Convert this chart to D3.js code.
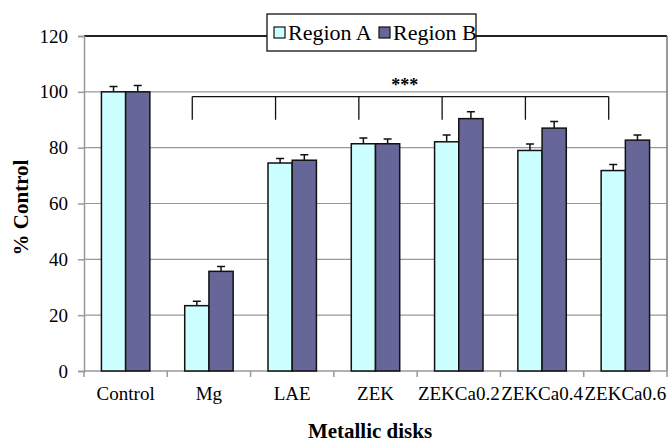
<!DOCTYPE html>
<html>
<head>
<meta charset="utf-8">
<script src="https://cdn.jsdelivr.net/npm/d3@7"></script>
<style>
  body { margin: 0; background: #fff; }
  text { font-family: "Liberation Serif", "Times New Roman", serif; }
</style>
</head>
<body>
<div id="chart"></div>
<script>
// values
const categories = ['Control', 'Mg', 'LAE', 'ZEK', 'ZEKCa0.2', 'ZEKCa0.4', 'ZEKCa0.6']
const seriesNames = ['Region A', 'Region B']
const regionA = [100, 23.4, 74.5, 81.4, 82.1, 79.0, 71.8]
const regionB = [100, 35.7, 75.5, 81.4, 90.4, 87.0, 82.7]
const errA = [1.9, 1.6, 1.6, 2.1, 2.4, 2.3, 2.2]
const errB = [2.3, 1.7, 2.0, 1.7, 2.5, 2.4, 1.8]
const yTicks = [0, 20, 40, 60, 80, 100, 120]
// significance bracket
const bracketCats = ['Mg', 'LAE', 'ZEK', 'ZEKCa0.2', 'ZEKCa0.4', 'ZEKCa0.6']
const bracketTop = 98.3
const bracketBottom = 90
const bracketLabel = '***'

const colors = ['#ccffff', '#666699']

const W = 668
const H = 442
const margin = { top: 36, right: 1, bottom: 71, left: 84 }
const width = W - margin.left - margin.right
const height = H - margin.top - margin.bottom

const svg = d3.select('#chart').append('svg')
  .attr('width', W)
  .attr('height', H)

const g = svg.append('g')
  .attr('transform', 'translate(' + margin.left + ',' + margin.top + ')')

const x = d3.scaleBand()
  .domain(categories)
  .range([0, width])

const x1 = d3.scaleBand()
  .domain(seriesNames)
  .range([0, x.bandwidth()])
  .paddingOuter(0.72)

const y = d3.scaleLinear()
  .domain([0, 120])
  .range([height, 0])

// gridlines
g.append('g')
  .selectAll('line')
  .data(yTicks.filter(d => d > 0 && d < 120))
  .enter().append('line')
  .attr('x1', 0)
  .attr('x2', width)
  .attr('y1', d => y(d))
  .attr('y2', d => y(d))
  .attr('stroke', '#999')
  .attr('stroke-width', 1.2)

// plot border: top black, right grey
g.append('line')
  .attr('x1', 0).attr('x2', width)
  .attr('y1', y(120)).attr('y2', y(120))
  .attr('stroke', '#222').attr('stroke-width', 2)
g.append('line')
  .attr('x1', width).attr('x2', width)
  .attr('y1', y(120)).attr('y2', height)
  .attr('stroke', '#777').attr('stroke-width', 1.5)

// y axis
const yAxis = g.append('g')
  .call(d3.axisLeft(y).tickValues(yTicks).tickSize(6).tickPadding(10))
yAxis.select('.domain').attr('stroke', '#999').attr('stroke-width', 1.5)
yAxis.selectAll('.tick line').attr('stroke', '#999').attr('stroke-width', 1.5)
yAxis.selectAll('text')
  .style('font-family', '"Liberation Serif", serif')
  .style('font-size', '19px')
  .attr('fill', '#000')

// x axis (ticks at category boundaries)
const xAxis = g.append('g')
  .attr('transform', 'translate(0,' + height + ')')
xAxis.append('line')
  .attr('x1', 0).attr('x2', width)
  .attr('stroke', '#999').attr('stroke-width', 1.5)
xAxis.selectAll('.bound')
  .data(categories.concat(['end']))
  .enter().append('line')
  .attr('class', 'bound')
  .attr('x1', (d, i) => i * x.step())
  .attr('x2', (d, i) => i * x.step())
  .attr('y1', 0).attr('y2', 6)
  .attr('stroke', '#999').attr('stroke-width', 1.5)
xAxis.selectAll('.lbl')
  .data(categories)
  .enter().append('text')
  .attr('class', 'lbl')
  .attr('x', d => x(d) + x.bandwidth() / 2)
  .attr('y', 29)
  .attr('text-anchor', 'middle')
  .style('font-size', '19px')
  .text(d => d)

// bars
const rows = categories.map((c, i) => ({
  cat: c,
  vals: [
    { s: seriesNames[0], v: regionA[i], e: errA[i] },
    { s: seriesNames[1], v: regionB[i], e: errB[i] }
  ]
}))

const groups = g.selectAll('.grp')
  .data(rows)
  .enter().append('g')
  .attr('class', 'grp')
  .attr('transform', d => 'translate(' + x(d.cat) + ',0)')

groups.selectAll('rect')
  .data(d => d.vals)
  .enter().append('rect')
  .attr('x', d => x1(d.s))
  .attr('y', d => y(d.v))
  .attr('width', x1.bandwidth())
  .attr('height', d => height - y(d.v))
  .attr('fill', (d, i) => colors[i])
  .attr('stroke', '#111')
  .attr('stroke-width', 1.5)

// error bars, upper only
const cap = 4
groups.selectAll('.err')
  .data(d => d.vals)
  .enter().append('path')
  .attr('class', 'err')
  .attr('d', d => {
    const cx = x1(d.s) + x1.bandwidth() / 2
    return 'M' + cx + ',' + y(d.v) + 'V' + y(d.v + d.e) +
      'M' + (cx - cap) + ',' + y(d.v + d.e) + 'H' + (cx + cap)
  })
  .attr('stroke', '#111')
  .attr('stroke-width', 1.5)
  .attr('fill', 'none')

// significance bracket
const bx = c => x(c) + x.bandwidth() * 0.3
const bracket = g.append('g')
bracket.append('line')
  .attr('x1', bx(bracketCats[0]))
  .attr('x2', bx(bracketCats[bracketCats.length - 1]))
  .attr('y1', y(bracketTop)).attr('y2', y(bracketTop))
  .attr('stroke', '#111').attr('stroke-width', 1.3)
bracket.selectAll('.drop')
  .data(bracketCats)
  .enter().append('line')
  .attr('class', 'drop')
  .attr('x1', d => bx(d)).attr('x2', d => bx(d))
  .attr('y1', y(bracketTop)).attr('y2', y(bracketBottom))
  .attr('stroke', '#111').attr('stroke-width', 1.3)
bracket.append('text')
  .attr('x', x('ZEK') + x.bandwidth() * 0.85)
  .attr('y', y(bracketTop) - 6)
  .attr('text-anchor', 'middle')
  .style('font-size', '18px')
  .style('font-weight', 'bold')
  .text(bracketLabel)

// legend
const legend = svg.append('g')
  .attr('transform', 'translate(267,14)')
legend.append('rect')
  .attr('width', 209)
  .attr('height', 37)
  .attr('fill', '#fff')
  .attr('stroke', '#111')
  .attr('stroke-width', 1.3)
const item = legend.selectAll('.item')
  .data(seriesNames)
  .enter().append('g')
  .attr('class', 'item')
  .attr('transform', (d, i) => 'translate(' + (7 + i * 105) + ',0)')
item.append('rect')
  .attr('y', 13)
  .attr('width', 11)
  .attr('height', 11)
  .attr('fill', (d, i) => colors[i])
  .attr('stroke', '#111')
  .attr('stroke-width', 1.2)
item.append('text')
  .attr('x', 14)
  .attr('y', 26)
  .style('font-size', '22px')
  .text(d => d)

// axis titles
svg.append('text')
  .attr('transform', 'translate(28,' + (margin.top + height / 2 + 4) + ') rotate(-90)')
  .attr('text-anchor', 'middle')
  .style('font-size', '21px')
  .style('font-weight', 'bold')
  .text('% Control')

svg.append('text')
  .attr('x', 370)
  .attr('y', 438)
  .attr('text-anchor', 'middle')
  .style('font-size', '21px')
  .style('font-weight', 'bold')
  .text('Metallic disks')
</script>
</body>
</html>
